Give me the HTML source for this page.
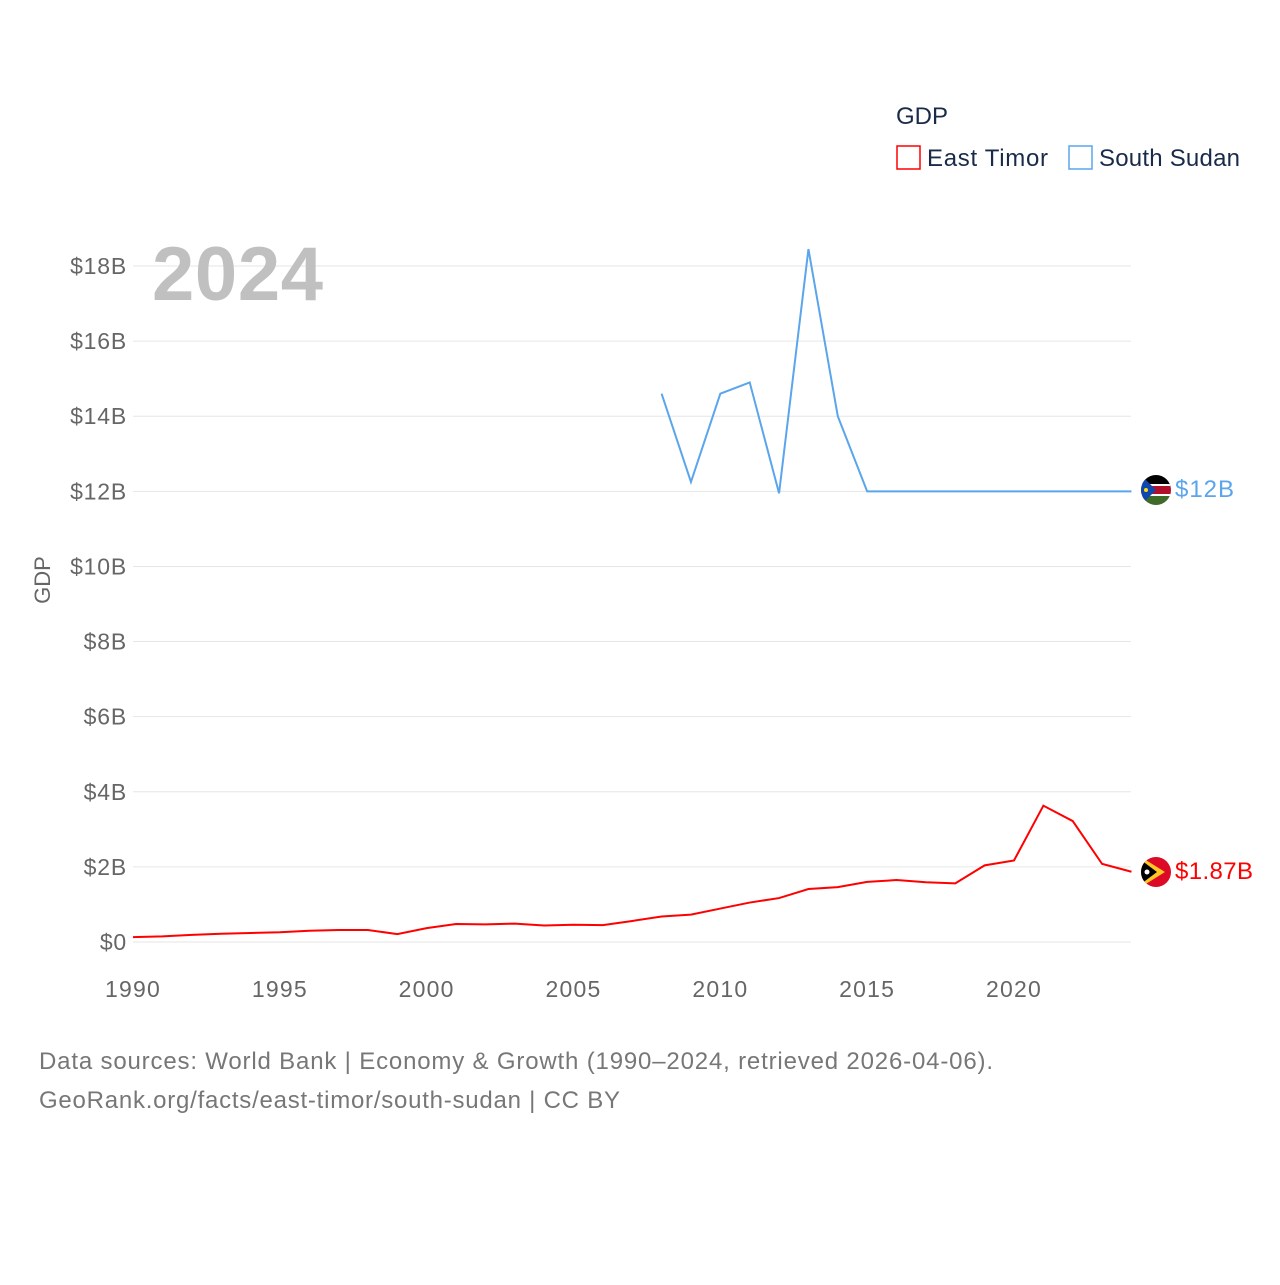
<!DOCTYPE html>
<html><head><meta charset="utf-8"><style>
body{margin:0;background:#fff;width:1280px;height:1280px;overflow:hidden;font-family:"Liberation Sans",sans-serif}
svg text{font-family:"Liberation Sans",sans-serif}
</style></head><body>
<svg id="chart" width="1280" height="1280" xmlns="http://www.w3.org/2000/svg">
<defs>
<clipPath id="c1"><circle cx="1156" cy="490" r="15"/></clipPath>
<clipPath id="c2"><circle cx="1156" cy="872" r="15"/></clipPath>
</defs>
<g id="grid"></g>
<text x="152" y="300" font-size="76" font-weight="bold" fill="#c0c0c0" textLength="171">2024</text>
<text transform="translate(50,580) rotate(-90)" text-anchor="middle" font-size="22" fill="#666">GDP</text>
<g id="series"></g>
<g>
<text x="896" y="124" font-size="24" fill="#1a2b4a">GDP</text>
<g><rect x="897" y="146" width="23" height="23" fill="none" stroke="#ff0000" stroke-width="1.5"/><text x="927" y="166" font-size="24" fill="#1a2b4a" textLength="121">East Timor</text></g>
<g><rect x="1069" y="146" width="23" height="23" fill="none" stroke="#5aa5ec" stroke-width="1.5"/><text x="1099" y="166" font-size="24" fill="#1a2b4a" textLength="141">South Sudan</text></g>
</g>
<g clip-path="url(#c1)">
<rect x="1141" y="475" width="30" height="10" fill="#000"/><rect x="1141" y="485" width="30" height="10" fill="#b0102a"/><rect x="1141" y="484" width="30" height="2" fill="#fff"/><rect x="1141" y="494" width="30" height="2" fill="#fff"/><rect x="1141" y="496" width="30" height="10" fill="#3f6b2a"/><polygon points="1141,475 1156,490 1141,505" fill="#0f47af"/><circle cx="1146" cy="490" r="2" fill="#fcdd09"/></g>
<g clip-path="url(#c2)">
<rect x="1141" y="857" width="30" height="30" fill="#dc0a26"/><polygon points="1141,857 1165,872 1141,887" fill="#ffc726"/><polygon points="1141,860 1157,872 1141,884" fill="#000"/><circle cx="1147" cy="872" r="2.5" fill="#fff"/></g>
<text x="1175" y="497" font-size="24" fill="#5aa5ec" textLength="59">$12B</text>
<text x="1175" y="879" font-size="24" fill="#ff0000" textLength="78">$1.87B</text>
<text x="39" y="1069" font-size="24" fill="#777" textLength="954">Data sources: World Bank | Economy &amp; Growth (1990–2024, retrieved 2026-04-06).</text>
<text x="39" y="1108" font-size="24" fill="#777" textLength="581">GeoRank.org/facts/east-timor/south-sudan | CC BY</text>
</svg>
<script>
const years=[1990,1991,1992,1993,1994,1995,1996,1997,1998,1999,2000,2001,2002,2003,2004,2005,2006,2007,2008,2009,2010,2011,2012,2013,2014,2015,2016,2017,2018,2019,2020,2021,2022,2023,2024];
const eastTimor=[0.13,0.15,0.19,0.22,0.24,0.26,0.30,0.32,0.32,0.21,0.37,0.48,0.47,0.49,0.44,0.46,0.45,0.56,0.68,0.73,0.89,1.05,1.17,1.41,1.46,1.60,1.65,1.59,1.56,2.04,2.17,3.63,3.22,2.08,1.87];
const southSudanYears=[2008,2009,2010,2011,2012,2013,2014,2015,2016,2017,2018,2019,2020,2021,2022,2023,2024];
const southSudan=[14.6,12.25,14.6,14.9,11.95,18.45,14.0,12.0,12.0,12.0,12.0,12.0,12.0,12.0,12.0,12.0,12.0];
const yTicks=[0,2,4,6,8,10,12,14,16,18];
const xTicks=[1990,1995,2000,2005,2010,2015,2020];
const NS="http://www.w3.org/2000/svg";
const x=y=>133+(y-1990)*(881/30);
const yv=v=>942-v*(676/18);
const grid=document.getElementById('grid');
function el(t,a,p){const e=document.createElementNS(NS,t);for(const k in a)e.setAttribute(k,a[k]);p.appendChild(e);return e;}
yTicks.forEach(v=>{
 const l=el('line',{x1:133,x2:1131,y1:yv(v),y2:yv(v),stroke:'#e6e6e6','stroke-width':1},grid);
 
 
 const t=el('text',{x:127,y:yv(v)+8,'text-anchor':'end','font-size':23,fill:'#666','letter-spacing':'0.8'},grid);
 t.textContent='$'+v+(v?'B':'');
 
 
});
xTicks.forEach(v=>{
 const t=el('text',{x:x(v),y:997,'text-anchor':'middle','font-size':23,fill:'#666','letter-spacing':'1.2'},grid);
 t.textContent=v;
 
 
});
const s=document.getElementById('series');
const p1=el('polyline',{points:years.map((yr,i)=>x(yr)+','+yv(eastTimor[i])).join(' '),fill:'none',stroke:'#ff0000','stroke-width':2},s);


const p2=el('polyline',{points:southSudanYears.map((yr,i)=>x(yr)+','+yv(southSudan[i])).join(' '),fill:'none',stroke:'#5aa5ec','stroke-width':2},s);


</script>
</body></html>
